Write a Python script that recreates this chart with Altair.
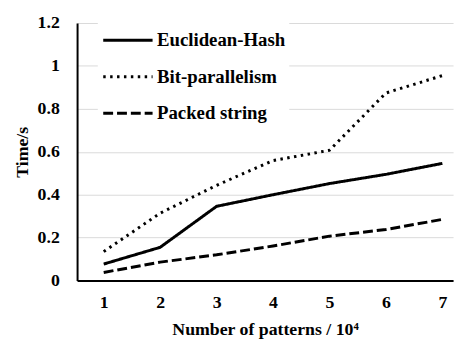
import altair as alt
import pandas as pd

patterns = [1, 2, 3, 4, 5, 6, 7]
euclidean_hash = [0.077, 0.155, 0.346, 0.400, 0.452, 0.495, 0.546]
bit_parallelism = [0.135, 0.314, 0.444, 0.559, 0.607, 0.874, 0.955]
packed_string = [0.038, 0.086, 0.120, 0.161, 0.207, 0.238, 0.285]
series_names = ["Euclidean-Hash", "Bit-parallelism", "Packed string"]
y_ticks = [0, 0.2, 0.4, 0.6, 0.8, 1.0, 1.2]

rows = []
for name, vals in zip(series_names, [euclidean_hash, bit_parallelism, packed_string]):
    for p, v in zip(patterns, vals):
        rows.append({"patterns": p, "time": v, "series": name})
df = pd.DataFrame(rows)

FONT = "Liberation Serif"

chart = alt.Chart(df).mark_line(
    interpolate="linear", color="black", strokeWidth=3, strokeJoin="round"
).encode(
    x=alt.X("patterns:Q",
            scale=alt.Scale(domain=[0.528, 7.19], nice=False, zero=False),
            axis=alt.Axis(values=patterns, title="Number of patterns / 10⁴",
                          grid=False, ticks=False, format="d",
                          labelPadding=13, titlePadding=10)),
    y=alt.Y("time:Q",
            scale=alt.Scale(domain=[0, 1.2], nice=False),
            axis=alt.Axis(values=y_ticks, title="Time/s", ticks=False,
                          labelExpr="datum.value == 0 ? '0' : format(datum.value, '.1~f')",
                          labelPadding=18, titlePadding=6)),
    strokeDash=alt.StrokeDash(
        "series:N",
        sort=series_names,
        scale=alt.Scale(domain=series_names, range=[[1, 0], [2.5, 4.5], [10, 4]]),
        legend=alt.Legend(title=None, orient="none", legendX=21, legendY=-13,
                          symbolType="stroke", symbolSize=2500,
                          symbolStrokeWidth=3, symbolStrokeColor="black",
                          labelFontSize=19, labelFont=FONT, labelFontWeight="bold",
                          labelColor="black", labelOffset=3, rowPadding=-8.5,
                          fillColor="white", padding=4),
    ),
).properties(
    width=381, height=261,
    padding={"left": 5, "top": 0, "right": 5, "bottom": 0},
).configure_axis(
    labelFont=FONT, labelFontSize=18, labelFontWeight="bold", labelColor="black",
    titleFont=FONT, titleFontSize=18, titleFontWeight="bold", titleColor="black",
    domainColor="black", domainWidth=2, gridColor="#d9d9d9", gridWidth=1,
).configure_view(stroke=None)

chart.save("out.html", embed_options={"renderer": "svg", "actions": False})
